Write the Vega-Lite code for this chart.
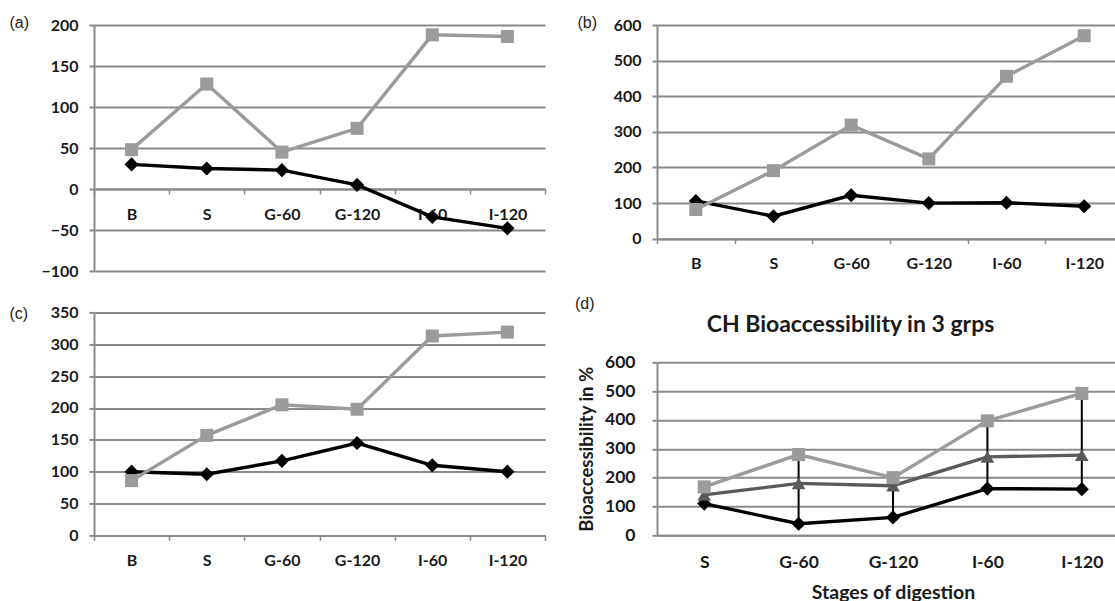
{
  "$schema": "https://vega.github.io/schema/vega-lite/v6.json",
  "background": "white",
  "padding": {"left": 9, "top": 14, "right": 0, "bottom": 0},
  "datasets": {
    "main": [
      {"panel": "a", "stage": "B", "series": "black", "value": 30},
      {"panel": "a", "stage": "S", "series": "black", "value": 25},
      {"panel": "a", "stage": "G-60", "series": "black", "value": 23},
      {"panel": "a", "stage": "G-120", "series": "black", "value": 5},
      {"panel": "a", "stage": "I-60", "series": "black", "value": -34},
      {"panel": "a", "stage": "I-120", "series": "black", "value": -48},
      {"panel": "a", "stage": "B", "series": "gray", "value": 48},
      {"panel": "a", "stage": "S", "series": "gray", "value": 128},
      {"panel": "a", "stage": "G-60", "series": "gray", "value": 45},
      {"panel": "a", "stage": "G-120", "series": "gray", "value": 74},
      {"panel": "a", "stage": "I-60", "series": "gray", "value": 188},
      {"panel": "a", "stage": "I-120", "series": "gray", "value": 186},
      {"panel": "b", "stage": "B", "series": "black", "value": 106},
      {"panel": "b", "stage": "S", "series": "black", "value": 63},
      {"panel": "b", "stage": "G-60", "series": "black", "value": 122},
      {"panel": "b", "stage": "G-120", "series": "black", "value": 100},
      {"panel": "b", "stage": "I-60", "series": "black", "value": 101},
      {"panel": "b", "stage": "I-120", "series": "black", "value": 91},
      {"panel": "b", "stage": "B", "series": "gray", "value": 82},
      {"panel": "b", "stage": "S", "series": "gray", "value": 191},
      {"panel": "b", "stage": "G-60", "series": "gray", "value": 319},
      {"panel": "b", "stage": "G-120", "series": "gray", "value": 224},
      {"panel": "b", "stage": "I-60", "series": "gray", "value": 456},
      {"panel": "b", "stage": "I-120", "series": "gray", "value": 570},
      {"panel": "c", "stage": "B", "series": "black", "value": 100},
      {"panel": "c", "stage": "S", "series": "black", "value": 96},
      {"panel": "c", "stage": "G-60", "series": "black", "value": 117},
      {"panel": "c", "stage": "G-120", "series": "black", "value": 145},
      {"panel": "c", "stage": "I-60", "series": "black", "value": 110},
      {"panel": "c", "stage": "I-120", "series": "black", "value": 100},
      {"panel": "c", "stage": "B", "series": "gray", "value": 86},
      {"panel": "c", "stage": "S", "series": "gray", "value": 157},
      {"panel": "c", "stage": "G-60", "series": "gray", "value": 205},
      {"panel": "c", "stage": "G-120", "series": "gray", "value": 198},
      {"panel": "c", "stage": "I-60", "series": "gray", "value": 313},
      {"panel": "c", "stage": "I-120", "series": "gray", "value": 319},
      {"panel": "d", "stage": "S", "series": "black", "value": 110},
      {"panel": "d", "stage": "G-60", "series": "black", "value": 40},
      {"panel": "d", "stage": "G-120", "series": "black", "value": 62},
      {"panel": "d", "stage": "I-60", "series": "black", "value": 162},
      {"panel": "d", "stage": "I-120", "series": "black", "value": 160},
      {"panel": "d", "stage": "S", "series": "dark", "value": 140},
      {"panel": "d", "stage": "G-60", "series": "dark", "value": 180},
      {"panel": "d", "stage": "G-120", "series": "dark", "value": 172},
      {"panel": "d", "stage": "I-60", "series": "dark", "value": 272},
      {"panel": "d", "stage": "I-120", "series": "dark", "value": 278},
      {"panel": "d", "stage": "S", "series": "gray", "value": 168},
      {"panel": "d", "stage": "G-60", "series": "gray", "value": 280},
      {"panel": "d", "stage": "G-120", "series": "gray", "value": 200},
      {"panel": "d", "stage": "I-60", "series": "gray", "value": 397},
      {"panel": "d", "stage": "I-120", "series": "gray", "value": 492}
    ],
    "errs": [
      {"stage": "S", "low": 110, "high": 166},
      {"stage": "G-60", "low": 40, "high": 280},
      {"stage": "G-120", "low": 62, "high": 200},
      {"stage": "I-60", "low": 162, "high": 397},
      {"stage": "I-120", "low": 160, "high": 492}
    ]
  },
  "data": {"name": "main"},
  "spacing": 29,
  "hconcat": [
    {
      "spacing": 41.4,
      "bounds": "flush",
      "vconcat": [
        {
          "width": 451,
          "height": 246,
          "transform": [{"filter": "datum.panel === 'a'"}],
          "encoding": {
            "x": {"field": "stage", "type": "nominal", "sort": ["B", "S", "G-60", "G-120", "I-60", "I-120"], "bandPosition": 0.5,
                  "scale": {"type": "band", "paddingInner": 0, "paddingOuter": 0},
                  "axis": {"title": null, "offset": -82, "zindex": 0}},
            "y": {"field": "value", "type": "quantitative", "scale": {"domain": [-100, 200], "nice": false, "zero": false},
                  "axis": {"values": [-100, -50, 0, 50, 100, 150, 200], "title": "(a)", "titleAngle": 0, "titleAlign": "left", "titleX": -85, "titleY": -2.6}},
            "color": {"field": "series", "type": "nominal", "scale": {"domain": ["gray", "dark", "black"], "range": ["#9b9b9b", "#5a5a5a", "#000000"]}, "legend": null}
          },
          "layer": [
            {"mark": {"type": "line", "strokeWidth": 3.4}},
            {"mark": {"type": "point", "filled": true, "opacity": 1},
             "encoding": {
               "shape": {"field": "series", "type": "nominal", "scale": {"domain": ["gray", "dark", "black"], "range": ["square", "triangle-up", "diamond"]}, "legend": null},
               "size": {"field": "series", "type": "nominal", "scale": {"domain": ["gray", "dark", "black"], "range": [170, 200, 150]}, "legend": null}
             }}
          ]
        },
        {
          "width": 451,
          "height": 223,
          "transform": [{"filter": "datum.panel === 'c'"}],
          "encoding": {
            "x": {"field": "stage", "type": "nominal", "sort": ["B", "S", "G-60", "G-120", "I-60", "I-120"], "bandPosition": 0.5,
                  "scale": {"type": "band", "paddingInner": 0, "paddingOuter": 0},
                  "axis": {"title": null}},
            "y": {"field": "value", "type": "quantitative", "scale": {"domain": [0, 350], "nice": false, "zero": false},
                  "axis": {"values": [0, 50, 100, 150, 200, 250, 300, 350], "title": "(c)", "titleAngle": 0, "titleAlign": "left", "titleX": -85, "titleY": 1.5}},
            "color": {"field": "series", "type": "nominal", "scale": {"domain": ["gray", "dark", "black"], "range": ["#9b9b9b", "#5a5a5a", "#000000"]}, "legend": null}
          },
          "layer": [
            {"mark": {"type": "line", "strokeWidth": 3.4}},
            {"mark": {"type": "point", "filled": true, "opacity": 1},
             "encoding": {
               "shape": {"field": "series", "type": "nominal", "scale": {"domain": ["gray", "dark", "black"], "range": ["square", "triangle-up", "diamond"]}, "legend": null},
               "size": {"field": "series", "type": "nominal", "scale": {"domain": ["gray", "dark", "black"], "range": [170, 200, 150]}, "legend": null}
             }}
          ]
        }
      ]
    },
    {
      "spacing": 123.3,
      "bounds": "flush",
      "vconcat": [
        {
          "width": 466,
          "height": 213.7,
          "transform": [{"filter": "datum.panel === 'b'"}],
          "encoding": {
            "x": {"field": "stage", "type": "nominal", "sort": ["B", "S", "G-60", "G-120", "I-60", "I-120"], "bandPosition": 0.5,
                  "scale": {"type": "band", "paddingInner": 0, "paddingOuter": 0},
                  "axis": {"title": null}},
            "y": {"field": "value", "type": "quantitative", "scale": {"domain": [0, 600], "nice": false, "zero": false},
                  "axis": {"values": [0, 100, 200, 300, 400, 500, 600], "title": "(b)", "titleAngle": 0, "titleAlign": "left", "titleX": -80, "titleY": -2.6}},
            "color": {"field": "series", "type": "nominal", "scale": {"domain": ["gray", "dark", "black"], "range": ["#9b9b9b", "#5a5a5a", "#000000"]}, "legend": null}
          },
          "layer": [
            {"mark": {"type": "line", "strokeWidth": 3.4}},
            {"mark": {"type": "point", "filled": true, "opacity": 1},
             "encoding": {
               "shape": {"field": "series", "type": "nominal", "scale": {"domain": ["gray", "dark", "black"], "range": ["square", "triangle-up", "diamond"]}, "legend": null},
               "size": {"field": "series", "type": "nominal", "scale": {"domain": ["gray", "dark", "black"], "range": [170, 200, 150]}, "legend": null}
             }}
          ]
        },
        {
          "width": 472,
          "height": 173,
          "title": {"text": "(d)", "anchor": "start", "frame": "group", "align": "left", "baseline": "middle", "dx": -82, "offset": -7,
                    "font": "Liberation Sans", "fontSize": 16, "fontWeight": "normal", "color": "#222222"},
          "resolve": {"axis": {"x": "independent"}},
          "layer": [
            {
              "data": {"name": "errs"},
              "mark": {"type": "rule", "color": "#000000", "strokeWidth": 2},
              "encoding": {
                "x": {"field": "stage", "type": "nominal", "sort": ["S", "G-60", "G-120", "I-60", "I-120"],
                      "scale": {"type": "point", "padding": 0.5},
                      "axis": {"orient": "top", "title": "CH Bioaccessibility in 3 grps", "titleFont": "Lato", "titleFontWeight": "bold", "titleFontSize": 23, "titleColor": "#1a1a1a",
                               "titleAlign": "center", "titleBaseline": "middle", "titleX": 193, "titleY": -38,
                               "labels": false, "ticks": false, "domain": false, "grid": false}},
                "y": {"field": "low", "type": "quantitative", "scale": {"domain": [0, 600], "nice": false, "zero": false},
                      "axis": {"values": [0, 100, 200, 300, 400, 500, 600], "title": "Bioaccessibility in %", "titleFont": "Lato", "titleFontWeight": "bold", "titleFontSize": 18.5, "titleColor": "#1a1a1a",
                               "titleAlign": "center", "titleBaseline": "middle", "titleX": -71, "titleY": 86.5, "labelFontSize": 17.5, "labelPadding": 17}},
                "y2": {"field": "high"}
              }
            },
            {
              "transform": [{"filter": "datum.panel === 'd'"}],
              "encoding": {
                "x": {"field": "stage", "type": "nominal", "sort": ["S", "G-60", "G-120", "I-60", "I-120"],
                      "scale": {"type": "point", "padding": 0.5},
                      "axis": {"title": "Stages of digestion", "titleFont": "Lato", "titleFontWeight": "bold", "titleFontSize": 19.5, "titleColor": "#1a1a1a",
                               "titleAlign": "center", "titleBaseline": "middle", "titleX": 236, "titleY": 57,
                               "ticks": false, "labelFontSize": 17.5, "labelPadding": 27}},
                "y": {"field": "value", "type": "quantitative", "scale": {"domain": [0, 600], "nice": false, "zero": false},
                      "axis": {"values": [0, 100, 200, 300, 400, 500, 600], "title": "Bioaccessibility in %", "titleFont": "Lato", "titleFontWeight": "bold", "titleFontSize": 18.5, "titleColor": "#1a1a1a",
                               "titleAlign": "center", "titleBaseline": "middle", "titleX": -71, "titleY": 86.5, "labelFontSize": 17.5, "labelPadding": 17}},
                "color": {"field": "series", "type": "nominal", "scale": {"domain": ["gray", "dark", "black"], "range": ["#9b9b9b", "#5a5a5a", "#000000"]}, "legend": null}
              },
              "layer": [
                {"mark": {"type": "line", "strokeWidth": 3.4}},
                {"mark": {"type": "point", "filled": true, "opacity": 1},
                 "encoding": {
                   "shape": {"field": "series", "type": "nominal", "scale": {"domain": ["gray", "dark", "black"], "range": ["square", "triangle-up", "diamond"]}, "legend": null},
                   "size": {"field": "series", "type": "nominal", "scale": {"domain": ["gray", "dark", "black"], "range": [170, 200, 150]}, "legend": null}
                 }}
              ]
            }
          ]
        }
      ]
    }
  ],
  "config": {
    "view": {"stroke": null},
    "axis": {
      "domainColor": "#8a8a8a", "domainWidth": 2,
      "gridColor": "#8a8a8a", "gridWidth": 2,
      "tickColor": "#8a8a8a", "tickWidth": 2, "tickSize": 5,
      "labelFont": "Lato", "labelFontWeight": "bold", "labelFontSize": 16, "labelColor": "#1a1a1a",
      "titleFont": "Liberation Sans", "titleFontWeight": "normal", "titleFontSize": 16, "titleColor": "#222222"
    },
    "axisX": {"grid": false, "labelAngle": 0, "labelBaseline": "middle", "labelPadding": 20, "tickBand": "extent", "tickWidth": 1.5,
              "titleAlign": "left", "titleBaseline": "middle"},
    "axisY": {"grid": true, "labelPadding": 11, "titleBaseline": "middle"}
  }
}
